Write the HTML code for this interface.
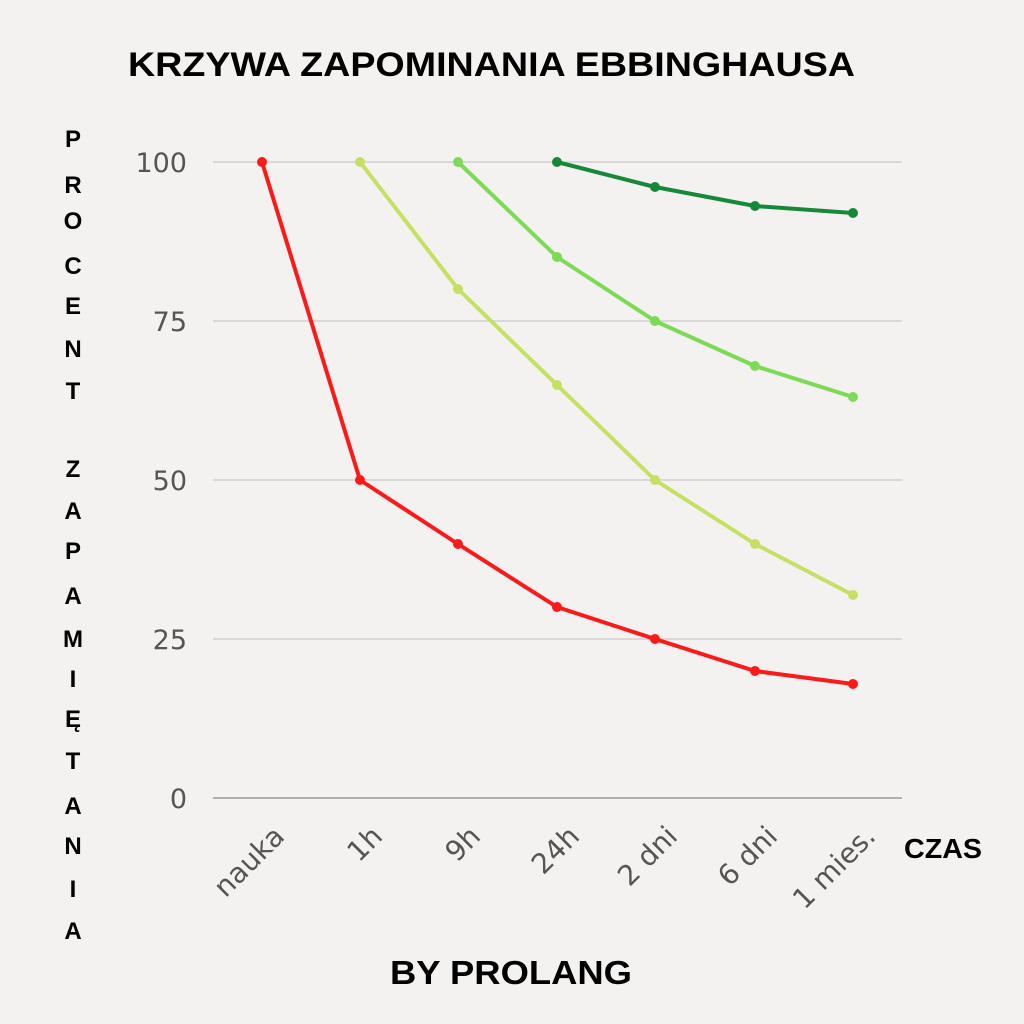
<!DOCTYPE html>
<html><head><meta charset="utf-8"><style>
html,body{margin:0;padding:0;background:#f3f2f0;}
svg{display:block;}
</style></head><body>
<svg width="1024" height="1024" viewBox="0 0 1024 1024" xmlns="http://www.w3.org/2000/svg">
<rect width="1024" height="1024" fill="#f3f2f0"/>
<text x="128" y="76" textLength="727" lengthAdjust="spacingAndGlyphs" font-family="Liberation Sans, sans-serif" font-weight="bold" font-size="34" fill="#000">KRZYWA ZAPOMINANIA EBBINGHAUSA</text>
<g font-family="Liberation Sans, sans-serif" font-weight="bold" font-size="24" text-anchor="middle" fill="#000">
<text x="73" y="147">P</text><text x="73" y="193">R</text><text x="73" y="229">O</text><text x="73" y="274">C</text><text x="73" y="314">E</text><text x="73" y="357">N</text><text x="73" y="399">T</text>
<text x="73" y="477">Z</text><text x="73" y="519">A</text><text x="73" y="559">P</text><text x="73" y="604">A</text><text x="73" y="647">M</text><text x="73" y="687">I</text><text x="73" y="727">Ę</text><text x="73" y="769">T</text><text x="73" y="814">A</text><text x="73" y="854">N</text><text x="73" y="897">I</text><text x="73" y="939">A</text>
</g>
<g stroke="#d0d0d0" stroke-width="1.5">
<line x1="213" y1="162" x2="902" y2="162"/><line x1="213" y1="321" x2="902" y2="321"/><line x1="213" y1="480" x2="902" y2="480"/><line x1="213" y1="639" x2="902" y2="639"/>
</g>
<line x1="213" y1="798" x2="902" y2="798" stroke="#9a9a9a" stroke-width="1.5"/>
<g font-family="DejaVu Sans, sans-serif" font-size="27" fill="#555" text-anchor="end">
<text x="187" y="172">100</text><text x="187" y="331">75</text><text x="187" y="490">50</text><text x="187" y="649">25</text><text x="187" y="808">0</text>
</g>
<g font-family="DejaVu Sans, sans-serif" font-size="28" fill="#555" text-anchor="end">
<text transform="translate(286,838) rotate(-45)">nauka</text>
<text transform="translate(384,838) rotate(-45)">1h</text>
<text transform="translate(482,838) rotate(-45)">9h</text>
<text transform="translate(581,838) rotate(-45)">24h</text>
<text transform="translate(679,838) rotate(-45)">2 dni</text>
<text transform="translate(779,838) rotate(-45)">6 dni</text>
<text transform="translate(877,838) rotate(-45)">1 mies.</text>
</g>
<text x="904" y="858" textLength="78" lengthAdjust="spacingAndGlyphs" font-family="Liberation Sans, sans-serif" font-weight="bold" font-size="28" fill="#000">CZAS</text>
<text x="390" y="984" textLength="242" lengthAdjust="spacingAndGlyphs" font-family="Liberation Sans, sans-serif" font-weight="bold" font-size="33" fill="#000">BY PROLANG</text>
<g fill="none" stroke-width="4" stroke-linejoin="round">
<polyline stroke="#ff1a1a" points="262,162 360,480 458,544 557,607 655,639 755,671 853,684"/>
<polyline stroke="#c6e063" points="360,162 458,289 557,385 655,480 755,544 853,595"/>
<polyline stroke="#7ed957" points="458,162 557,257 655,321 755,366 853,397"/>
<polyline stroke="#17883a" points="557,162 655,187 755,206 853,213"/>
</g>
<g fill="#ff1a1a"><circle cx="262" cy="162" r="5"/><circle cx="360" cy="480" r="5"/><circle cx="458" cy="544" r="5"/><circle cx="557" cy="607" r="5"/><circle cx="655" cy="639" r="5"/><circle cx="755" cy="671" r="5"/><circle cx="853" cy="684" r="5"/></g>
<g fill="#c6e063"><circle cx="360" cy="162" r="5"/><circle cx="458" cy="289" r="5"/><circle cx="557" cy="385" r="5"/><circle cx="655" cy="480" r="5"/><circle cx="755" cy="544" r="5"/><circle cx="853" cy="595" r="5"/></g>
<g fill="#7ed957"><circle cx="458" cy="162" r="5"/><circle cx="557" cy="257" r="5"/><circle cx="655" cy="321" r="5"/><circle cx="755" cy="366" r="5"/><circle cx="853" cy="397" r="5"/></g>
<g fill="#17883a"><circle cx="557" cy="162" r="5"/><circle cx="655" cy="187" r="5"/><circle cx="755" cy="206" r="5"/><circle cx="853" cy="213" r="5"/></g>
</svg>
</body></html>
